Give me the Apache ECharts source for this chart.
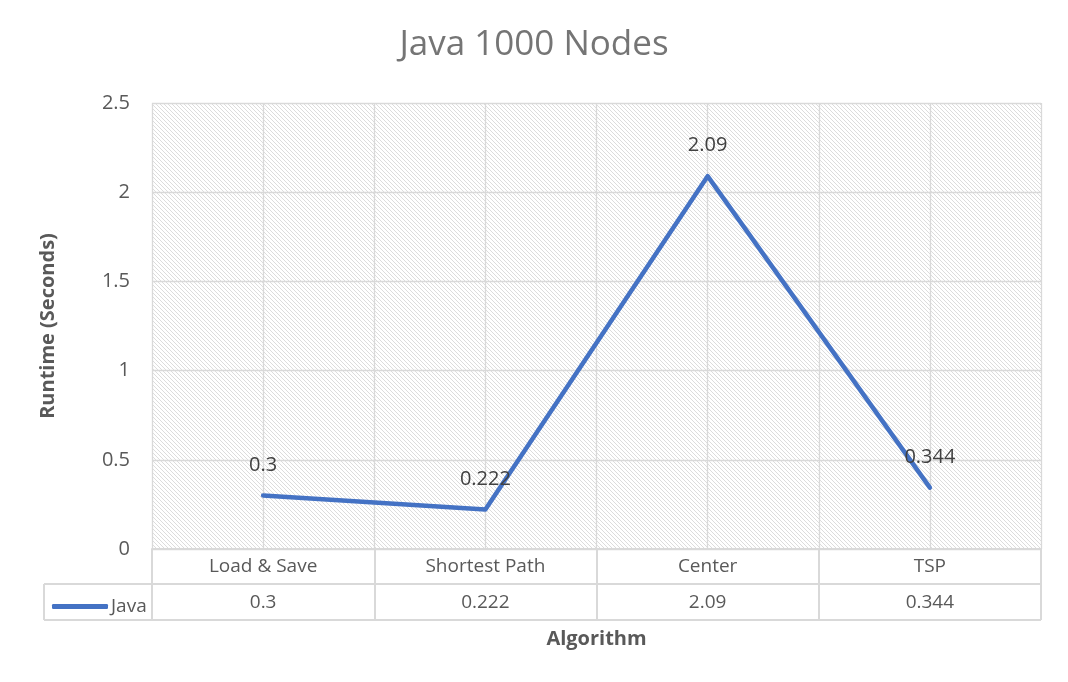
<!DOCTYPE html>
<html>
<head>
<meta charset="utf-8">
<title>Java 1000 Nodes</title>
<script src="https://cdn.jsdelivr.net/npm/echarts@6/dist/echarts.min.js"></script>
<style>
  html, body { margin: 0; padding: 0; background: #fff; }
  #chart { width: 1068px; height: 682px; }
</style>
</head>
<body>
<div id="chart"></div>
<script>
var categories = ['Load & Save', 'Shortest Path', 'Center', 'TSP'];
var javaValues = [0.3, 0.222, 2.09, 0.344];
var seriesName = 'Java';
var yMin = 0, yMax = 2.5, yStep = 0.5;

// hatch tile for the plot area
var tile = document.createElement('canvas');
tile.width = 4;
tile.height = 4;
var ctx = tile.getContext('2d');
ctx.fillStyle = '#ffffff';
ctx.fillRect(0, 0, 4, 4);
ctx.fillStyle = '#dcdcdc';
for (var i = 0; i < 4; i++) {
	ctx.fillRect(i, i, 1, 1);
}

var gridColor = '#d9d9d9';
var textColor = '#595959';
var font = 'Open Sans';

var points = [];
for (var k = 0; k < categories.length; k++) {
	points.push([k + 0.5, javaValues[k]]);
}

var chart = echarts.init(document.getElementById('chart'));
chart.setOption({
	animation: false,
	title: {
		text: 'Java 1000 Nodes',
		left: 'center',
		top: 23,
		textStyle: { color: '#757575', fontSize: 35, fontWeight: 'normal', fontFamily: font }
	},
	legend: {
		data: [seriesName],
		left: 47,
		top: 592,
		icon: 'roundRect',
		itemWidth: 56,
		itemHeight: 5,
		itemStyle: { color: '#4472c4' },
		textStyle: { color: textColor, fontSize: 19, fontFamily: font, padding: [0, 0, 0, -2] }
	},
	grid: {
		left: 152,
		right: 27,
		top: 103,
		bottom: 133,
		show: true,
		borderWidth: 0,
		backgroundColor: { image: tile, repeat: 'repeat' }
	},
	xAxis: [{
		type: 'value',
		min: 0,
		max: categories.length,
		interval: 0.5,
		axisLabel: { show: false },
		axisLine: { show: false },
		axisTick: { show: false },
		splitLine: { lineStyle: { color: gridColor, width: 1.3 } },
		name: 'Algorithm',
		nameLocation: 'middle',
		nameGap: 80,
		nameTextStyle: { color: textColor, fontSize: 20, fontWeight: 'bold', fontFamily: font }
	}, {
		type: 'category',
		data: categories,
		position: 'bottom',
		boundaryGap: true,
		axisLine: { show: true, lineStyle: { color: gridColor, width: 2 } },
		axisTick: { show: true, length: 71, lineStyle: { color: gridColor, width: 2 } },
		axisLabel: { margin: 8, color: textColor, fontSize: 19, fontFamily: font },
		splitLine: { show: false }
	}, {
		type: 'category',
		data: categories,
		position: 'bottom',
		offset: 36,
		boundaryGap: true,
		axisLine: { show: false },
		axisTick: { show: false },
		axisLabel: {
			margin: 8,
			color: textColor,
			fontSize: 19,
			fontFamily: font,
			formatter: function(v, idx) { return String(javaValues[idx]); }
		},
		splitLine: { show: false }
	}],
	yAxis: {
		type: 'value',
		min: yMin,
		max: yMax,
		interval: yStep,
		axisLine: { show: false },
		axisTick: { show: false },
		axisLabel: { margin: 22, color: textColor, fontSize: 20, fontFamily: font },
		splitLine: { lineStyle: { color: gridColor, width: 1.3 } },
		name: 'Runtime (Seconds)',
		nameLocation: 'middle',
		nameGap: 94,
		nameTextStyle: { color: textColor, fontSize: 20, fontWeight: 'bold', fontFamily: font }
	},
	graphic: [
		{ type: 'line', shape: { x1: 44, y1: 584, x2: 1041, y2: 584 }, style: { stroke: gridColor, lineWidth: 2 } },
		{ type: 'line', shape: { x1: 44, y1: 620, x2: 1041, y2: 620 }, style: { stroke: gridColor, lineWidth: 2 } },
		{ type: 'line', shape: { x1: 44, y1: 584, x2: 44, y2: 620 }, style: { stroke: gridColor, lineWidth: 2 } }
	],
	series: [{
		name: seriesName,
		type: 'line',
		xAxisIndex: 0,
		data: points,
		showSymbol: true,
		symbol: 'circle',
		symbolSize: 1,
		color: '#4472c4',
		lineStyle: { width: 4.5, cap: 'round', join: 'round' },
		label: {
			show: true,
			position: 'top',
			distance: 20,
			color: '#404040',
			fontSize: 20,
			fontFamily: font,
			formatter: function(p) { return String(p.value[1]); }
		}
	}]
});
</script>
</body>
</html>
